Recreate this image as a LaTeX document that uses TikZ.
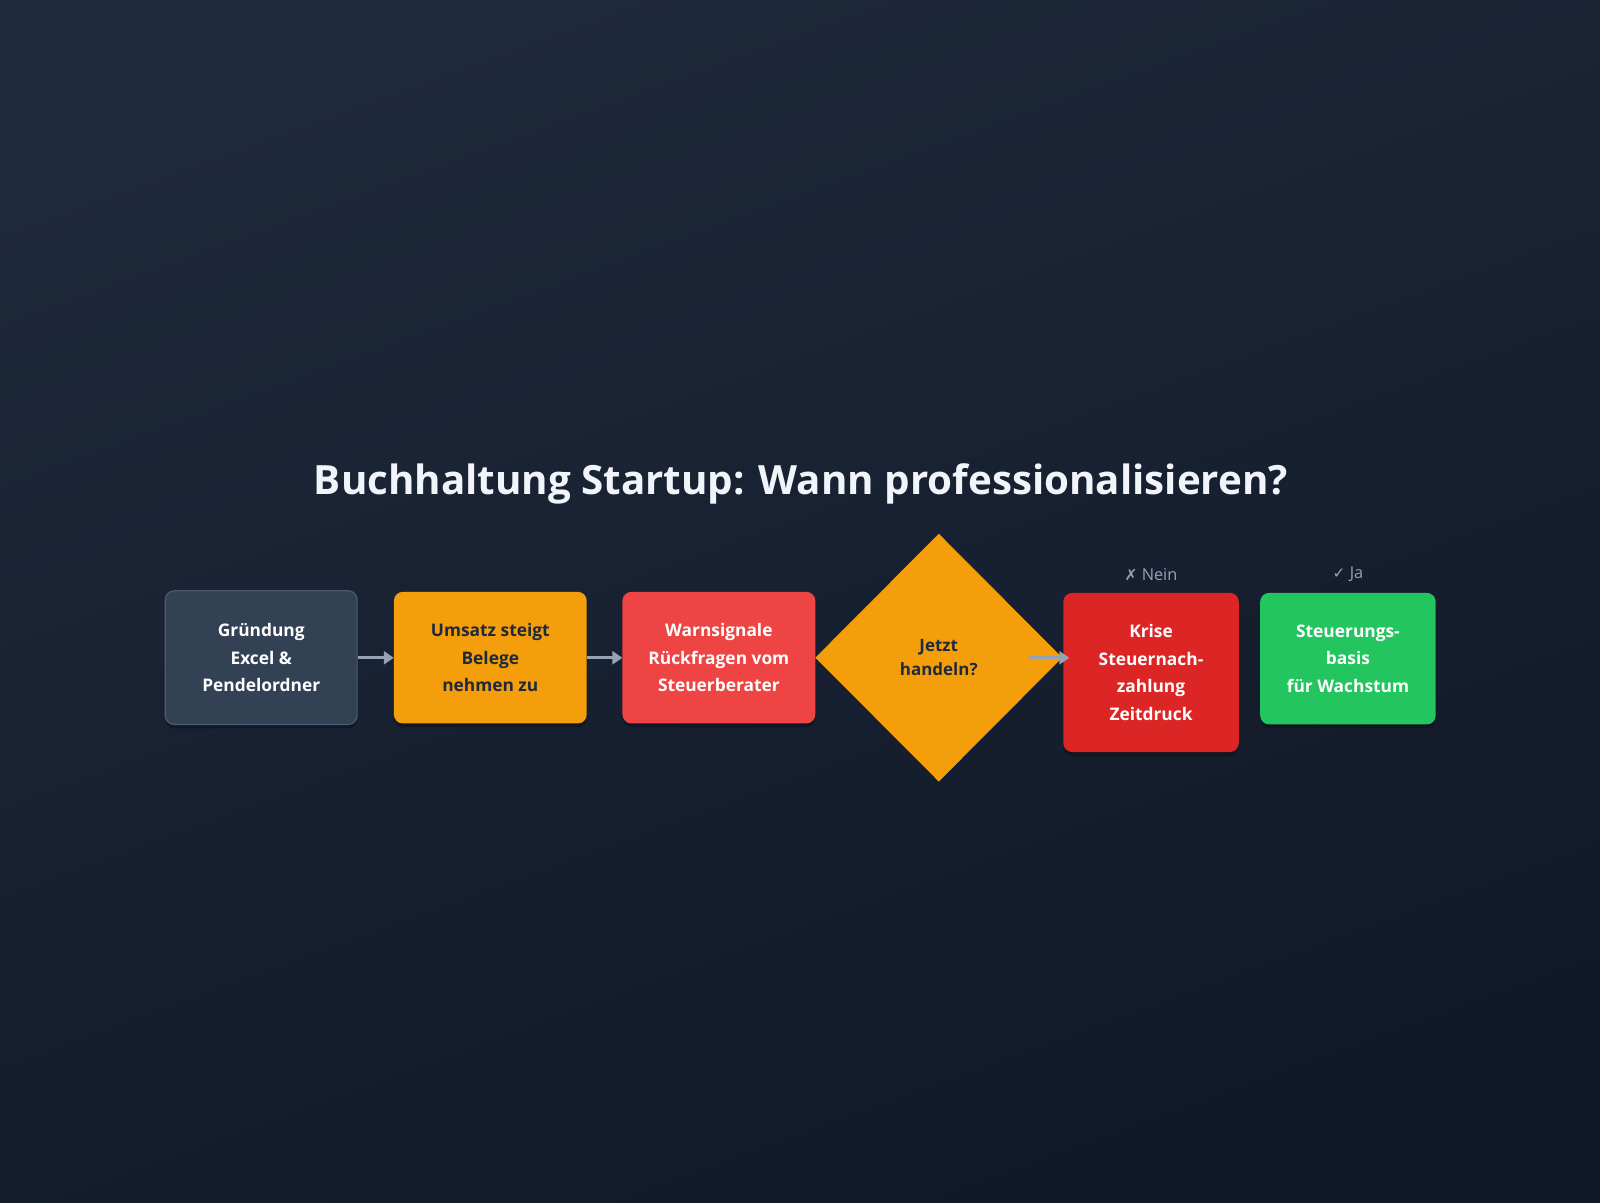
\documentclass[tikz,border=0pt]{standalone}
\usepackage{fontspec}
\setmainfont{Open Sans}
\newfontfamily\symfont{DejaVu Sans}
\usetikzlibrary{shapes.geometric,arrows.meta,shadows}
\definecolor{bgtop}{HTML}{1E293B}
\definecolor{bgbot}{HTML}{111827}
\definecolor{slatebox}{HTML}{334155}
\definecolor{slateedge}{HTML}{4B5A70}
\definecolor{amber}{HTML}{F59E0B}
\definecolor{redl}{HTML}{EF4444}
\definecolor{redd}{HTML}{DC2626}
\definecolor{greenb}{HTML}{22C55E}
\definecolor{darktext}{HTML}{1E293B}
\definecolor{conn}{HTML}{94A3B8}
\definecolor{titlec}{HTML}{F1F5F9}
\tikzset{
  box/.style={rounded corners=9pt, align=center, font=\fontsize{17}{27}\selectfont\bfseries, inner sep=0pt,
    drop shadow={shadow xshift=0pt, shadow yshift=-4pt, opacity=0.25, fill=black}},
  flow/.style={draw=conn, line width=3pt, -{Triangle[length=10pt,width=13pt]}},
  branch/.style={text=conn, font=\fontsize{16}{18}\selectfont},
}
\begin{document}
\begin{tikzpicture}[x=1pt,y=-1pt,scale=1.0204,every node/.style={transform shape}]
\shade[top color=bgtop, bottom color=bgbot, shading angle=20] (0,0) rectangle (1568,1178);
\useasboundingbox (0,0) rectangle (1568,1178);

\node[text=titlec, font=\fontsize{39.5}{46}\selectfont\bfseries] (title) at (785,474) {Buchhaltung Startup: Wann professionalisieren?};

\node[box, fill=slatebox, draw=slateedge, line width=1.2pt, text=white, minimum width=188pt, minimum height=131pt] (b1) at (256,644.5) {Gründung\\Excel \&\\Pendelordner};
\node[box, fill=amber, text=darktext, minimum width=189pt, minimum height=129pt] (b2) at (480.5,644.5) {Umsatz steigt\\Belege\\nehmen zu};
\node[box, fill=redl, text=white, minimum width=189pt, minimum height=129pt] (b3) at (704.5,644.5) {Warnsignale\\Rückfragen vom\\Steuerberater};
\node[diamond, fill=amber, text=darktext, minimum width=242pt, minimum height=243pt, inner sep=0pt, align=center,
  font=\fontsize{16.6}{24}\selectfont\bfseries] (d) at (920,644.5) {Jetzt\\handeln?};
\node[box, fill=redd, text=white, minimum width=172pt, minimum height=156pt] (b4) at (1128,659) {Krise\\Steuernach-\\zahlung\\Zeitdruck};
\node[box, fill=greenb, text=white, minimum width=172pt, minimum height=129pt] (b5) at (1321,645.5) {Steuerungs-\\basis\\für Wachstum};

\node[branch] (nein) at (1128,563) {{\symfont\fontsize{15}{18}\selectfont ✗}\ Nein};
\node[branch] (ja) at (1321,563) {{\symfont\fontsize{15}{18}\selectfont ✓}\ Ja};

\draw[flow] (b1.east) -- (b2.west);
\draw[flow] (b2.east) -- (b3.west);
\coordinate (dstart) at (1008,644.5);
\draw[flow, shorten >=-6pt] (dstart) -- (b4.west |- dstart);
\end{tikzpicture}
\end{document}
